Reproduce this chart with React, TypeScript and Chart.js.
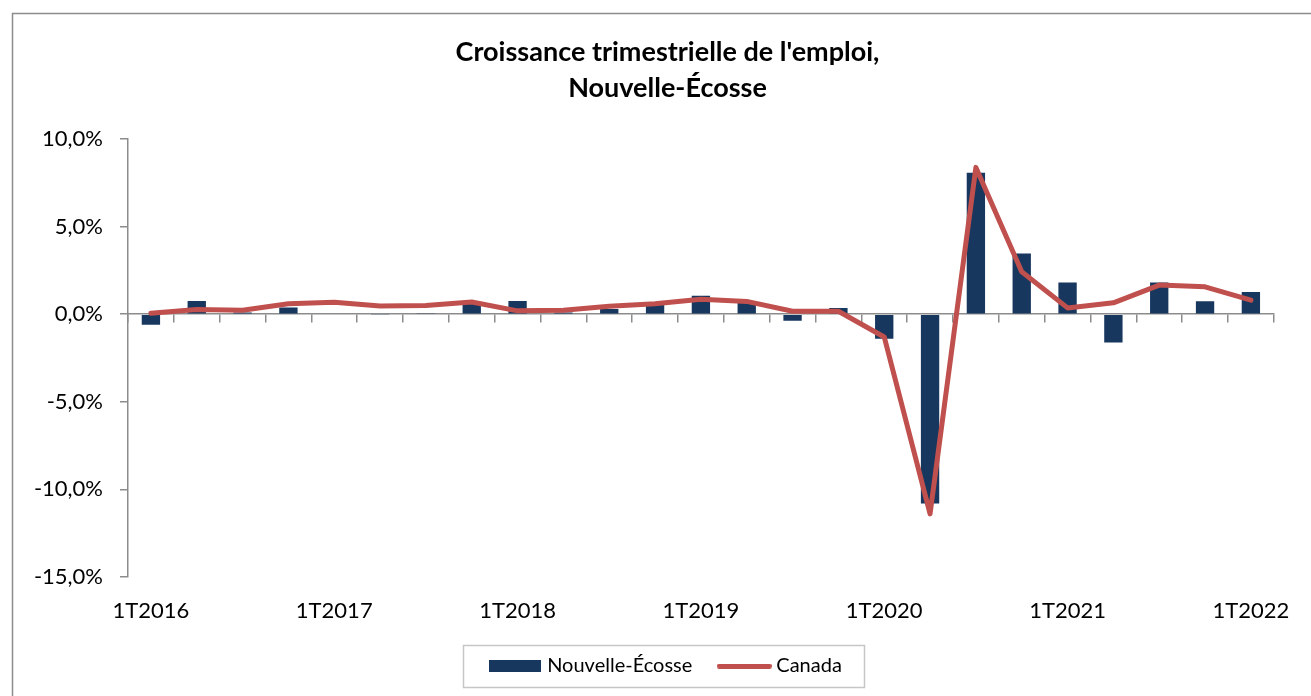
import React, { useEffect, useRef } from "react";
import { Chart, registerables } from "chart.js";

Chart.register(...registerables);

const quarters: string[] = [
  "1T2016", "2T2016", "3T2016", "4T2016",
  "1T2017", "2T2017", "3T2017", "4T2017",
  "1T2018", "2T2018", "3T2018", "4T2018",
  "1T2019", "2T2019", "3T2019", "4T2019",
  "1T2020", "2T2020", "3T2020", "4T2020",
  "1T2021", "2T2021", "3T2021", "4T2021",
  "1T2022",
];

const novaScotia: number[] = [
  -0.6, 0.75, 0.1, 0.38,
  -0.05, -0.03, 0.05, 0.67,
  0.75, 0.1, 0.3, 0.67,
  1.05, 0.76, -0.38, 0.36,
  -1.4, -10.8, 8.07, 3.47,
  1.81, -1.62, 1.81, 0.74,
  1.27,
];

const canada: number[] = [
  0.05, 0.27, 0.23, 0.6,
  0.68, 0.47, 0.5, 0.7,
  0.19, 0.23, 0.45, 0.6,
  0.85, 0.73, 0.17, 0.17,
  -1.3, -11.4, 8.38, 2.42,
  0.36, 0.65, 1.66, 1.56,
  0.8,
];

const seriesNames: string[] = ["Nouvelle-Écosse", "Canada"];
const titleLines: string[] = ["Croissance trimestrielle de l'emploi,", "Nouvelle-Écosse"];
const yMin = -15;
const yMax = 10;
const yStep = 5;

const NAVY = "#17375E";
const RED = "#C0504D";
const GRAY = "#8c8c8c";
const FONT = "Lato, 'Open Sans', sans-serif";

function makeSwatch(w: number, h: number, color: string, round: boolean): HTMLCanvasElement {
  const c = document.createElement("canvas");
  c.width = w;
  c.height = h;
  const ctx = c.getContext("2d")!;
  ctx.fillStyle = color;
  if (round) {
    ctx.beginPath();
    ctx.moveTo(h / 2, 0);
    ctx.lineTo(w - h / 2, 0);
    ctx.arc(w - h / 2, h / 2, h / 2, -Math.PI / 2, Math.PI / 2);
    ctx.lineTo(h / 2, h);
    ctx.arc(h / 2, h / 2, h / 2, Math.PI / 2, (3 * Math.PI) / 2);
    ctx.closePath();
    ctx.fill();
  } else {
    ctx.fillRect(0, 0, w, h);
  }
  return c;
}

const framePlugin = {
  id: "frame",
  beforeDraw(chart: any) {
    const ctx = chart.ctx;
    ctx.save();
    ctx.fillStyle = "#ffffff";
    ctx.fillRect(0, 0, chart.width, chart.height);
    ctx.strokeStyle = GRAY;
    ctx.lineWidth = 1.5;
    ctx.strokeRect(12.5, 13.5, chart.width + 40, chart.height + 40);
    ctx.restore();
  },
  afterDraw(chart: any) {
    const legend = chart.legend;
    if (!legend || !legend.legendHitBoxes || legend.legendHitBoxes.length < 2) return;
    const hb = legend.legendHitBoxes;
    const first = hb[0];
    const last = hb[hb.length - 1];
    const left = first.left - 30;
    const right = last.left + last.width + 22;
    const cy = first.top + first.height / 2;
    const ctx = chart.ctx;
    ctx.save();
    ctx.strokeStyle = "#c6c6c6";
    ctx.lineWidth = 1.5;
    ctx.strokeRect(Math.round(left) + 0.5, Math.round(cy - 21) + 0.5, Math.round(right - left), 42);
    ctx.restore();
  },
};

export default function App() {
  const canvasRef = useRef<HTMLCanvasElement | null>(null);

  useEffect(() => {
    if (!canvasRef.current) return;
    const barSwatch = makeSwatch(52, 12, NAVY, false);
    const lineSwatch = makeSwatch(55, 5, RED, true);

    const chart = new Chart(canvasRef.current, {
      type: "bar",
      data: {
        labels: quarters,
        datasets: [
          {
            type: "bar",
            label: seriesNames[0],
            data: novaScotia,
            backgroundColor: NAVY,
            borderWidth: 0,
            barPercentage: 0.4,
            categoryPercentage: 1,
            xAxisID: "x",
            yAxisID: "y",
            order: 2,
          },
          {
            type: "line",
            label: seriesNames[1],
            data: canada,
            borderColor: RED,
            backgroundColor: RED,
            borderWidth: 5,
            pointRadius: 0,
            pointHoverRadius: 0,
            tension: 0,
            borderJoinStyle: "round",
            borderCapStyle: "round",
            fill: false,
            xAxisID: "x",
            yAxisID: "y",
            order: 1,
          },
        ],
      } as any,
      options: {
        responsive: false,
        animation: false,
        maintainAspectRatio: false,
        layout: { padding: { left: 24, right: 0, top: 0, bottom: 10 } },
        plugins: {
          title: {
            display: true,
            text: titleLines,
            color: "#000",
            font: { family: FONT, size: 27, weight: "bold", lineHeight: 36 / 27 },
            padding: { top: 34.5, bottom: 32.5 },
          },
          legend: {
            display: true,
            position: "bottom",
            labels: {
              usePointStyle: true,
              pointStyleWidth: 44,
              boxHeight: 12,
              padding: 30,
              color: "#000",
              font: { family: FONT, size: 20 },
              generateLabels: () => [
                { text: seriesNames[0], pointStyle: barSwatch, fillStyle: NAVY, strokeStyle: NAVY, lineWidth: 0, hidden: false, datasetIndex: 0, fontColor: "#000" },
                { text: seriesNames[1], pointStyle: lineSwatch, fillStyle: RED, strokeStyle: RED, lineWidth: 0, hidden: false, datasetIndex: 1, fontColor: "#000" },
              ] as any,
            },
          },
          tooltip: { enabled: false },
        },
        scales: {
          x: {
            type: "category",
            position: "bottom",
            offset: true,
            border: { display: false },
            grid: { display: false, drawTicks: false },
            ticks: {
              autoSkip: false,
              maxRotation: 0,
              minRotation: 0,
              padding: 21,
              color: "#000",
              font: { family: FONT, size: 22 },
              callback: (_v: any, i: number) => (quarters[i].startsWith("1T") ? quarters[i] : ""),
            },
            afterFit: (s: any) => {
              s.height = 49;
            },
          },
          x0: {
            type: "category",
            position: { y: 0 },
            offset: true,
            border: { display: true, color: GRAY, width: 1.5 },
            grid: { display: true, offset: true, drawOnChartArea: false, drawTicks: true, tickLength: 8, color: GRAY, lineWidth: 1.5 },
            ticks: { display: false },
            afterFit: (s: any) => {
              s.height = 0;
            },
          },
          y: {
            type: "linear",
            position: "left",
            min: yMin,
            max: yMax,
            border: { display: true, color: GRAY, width: 1.5 },
            grid: { display: true, drawOnChartArea: false, drawTicks: true, tickLength: 8, color: GRAY, lineWidth: 1.5 },
            ticks: {
              stepSize: yStep,
              padding: 17,
              color: "#000",
              font: { family: FONT, size: 22 },
              callback: (v: any) => Number(v).toFixed(1).replace(".", ",") + "%",
            },
            afterFit: (s: any) => {
              s.width = 104;
            },
          },
          yRight: {
            type: "linear",
            position: "right",
            display: true,
            min: yMin,
            max: yMax,
            border: { display: false },
            grid: { display: false, drawTicks: false },
            ticks: { display: false },
            afterFit: (s: any) => {
              s.width = 36;
            },
          },
        },
      } as any,
      plugins: [framePlugin],
    });

    return () => {
      chart.destroy();
    };
  }, []);

  return (
    <div style={{ position: "absolute", left: 0, top: 0, width: 1311, height: 696, background: "#fff" }}>
      <canvas ref={canvasRef} width={1311} height={696} style={{ display: "block" }} />
    </div>
  );
}
